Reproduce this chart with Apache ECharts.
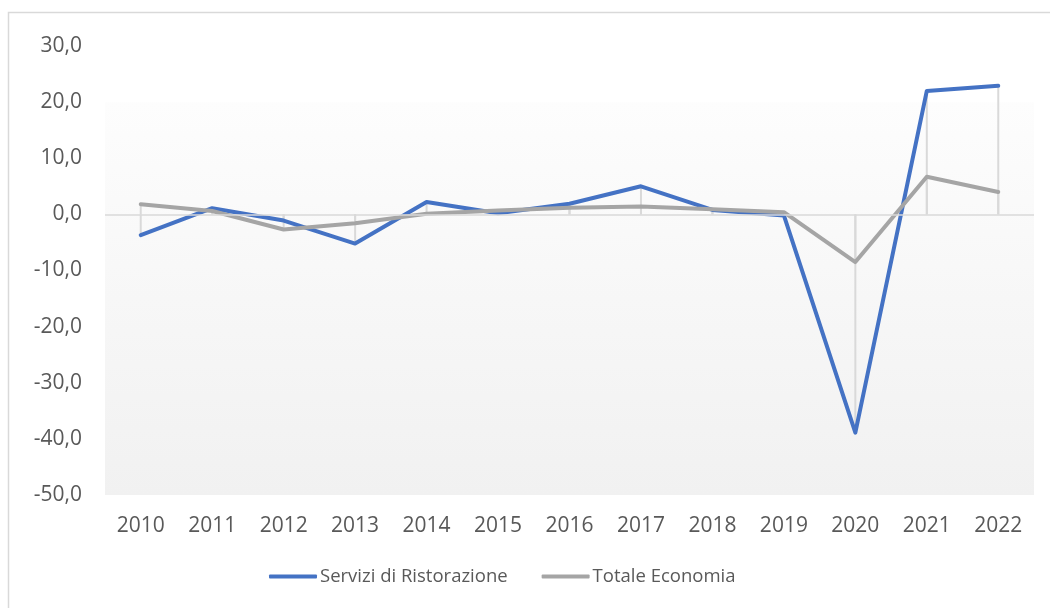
<!DOCTYPE html>
<html>
<head>
<meta charset="utf-8">
<script src="https://cdn.jsdelivr.net/npm/echarts@6/dist/echarts.min.js"></script>
<style>
  html, body { margin: 0; padding: 0; background: #fff; }
  #chart { width: 1050px; height: 608px; }
</style>
</head>
<body>
<div id="chart"></div>
<script>
// dati
var anni = ["2010", "2011", "2012", "2013", "2014", "2015", "2016", "2017", "2018", "2019", "2020", "2021", "2022"];
var ristorazione = [-3.7, 1.1, -1.1, -5.2, 2.2, 0.2, 1.9, 5.0, 0.8, -0.2, -38.9, 22.0, 22.9];
var totaleEconomia = [1.8, 0.6, -2.7, -1.6, 0.1, 0.7, 1.2, 1.4, 0.9, 0.4, -8.5, 6.7, 4.0];
var nomi = ["Servizi di Ristorazione", "Totale Economia"];

var font = "Open Sans";
var chart = echarts.init(document.getElementById("chart"));

var option = {
  animation: false,
  backgroundColor: "#fff",
  textStyle: { fontFamily: font },
  graphic: [
    {
      type: "rect",
      shape: { x: 8.5, y: 12.5, width: 1100, height: 700 },
      style: { fill: "none", stroke: "#d9d9d9", lineWidth: 1.5 },
      silent: true
    }
  ],
  grid: { left: 105, right: 16, top: 46, bottom: 113 },
  legend: {
    data: nomi,
    bottom: 17,
    left: 264,
    icon: "roundRect",
    itemWidth: 48,
    itemHeight: 4,
    itemGap: 34,
    textStyle: { fontFamily: font, fontSize: 18.5, color: "#595959", padding: [0, 0, 0, -2] }
  },
  xAxis: {
    type: "category",
    data: anni,
    boundaryGap: true,
    axisLine: { show: false, onZero: false },
    axisTick: { show: false },
    splitLine: { show: false },
    axisLabel: { fontFamily: font, fontSize: 21, color: "#595959", margin: 21 }
  },
  yAxis: {
    type: "value",
    min: -50,
    max: 30,
    interval: 10,
    axisLine: { show: false },
    axisTick: { show: false },
    splitLine: { show: false },
    axisLabel: {
      fontFamily: font,
      fontSize: 21,
      color: "#595959",
      margin: 23,
      formatter: function (v) { return v.toFixed(1).replace(".", ","); }
    }
  },
  series: [
    {
      name: "drop1",
      type: "bar",
      data: ristorazione,
      barWidth: 2,
      barGap: "-100%",
      itemStyle: { color: "#d9d9d9" },
      silent: true,
      z: 1,
      markArea: {
        silent: true,
        itemStyle: {
          color: new echarts.graphic.LinearGradient(0, 0, 0, 1, [
            { offset: 0, color: "#fdfdfd" },
            { offset: 1, color: "#f1f1f1" }
          ])
        },
        data: [[{ yAxis: 20 }, { yAxis: -50 }]]
      },
      markLine: {
        silent: true,
        symbol: "none",
        label: { show: false },
        lineStyle: { color: "#d9d9d9", width: 1.5, type: "solid" },
        data: [{ yAxis: 0 }]
      }
    },
    {
      name: "drop2",
      type: "bar",
      data: totaleEconomia,
      barWidth: 2,
      barGap: "-100%",
      itemStyle: { color: "#d9d9d9" },
      silent: true,
      z: 1
    },
    {
      name: nomi[0],
      type: "line",
      data: ristorazione,
      symbol: "none",
      lineStyle: { color: "#4472c4", width: 4, cap: "round", join: "round" },
      itemStyle: { color: "#4472c4" },
      z: 3
    },
    {
      name: nomi[1],
      type: "line",
      data: totaleEconomia,
      symbol: "none",
      lineStyle: { color: "#a5a5a5", width: 4, cap: "round", join: "round" },
      itemStyle: { color: "#a5a5a5" },
      z: 4
    }
  ]
};

chart.setOption(option);
</script>
</body>
</html>
